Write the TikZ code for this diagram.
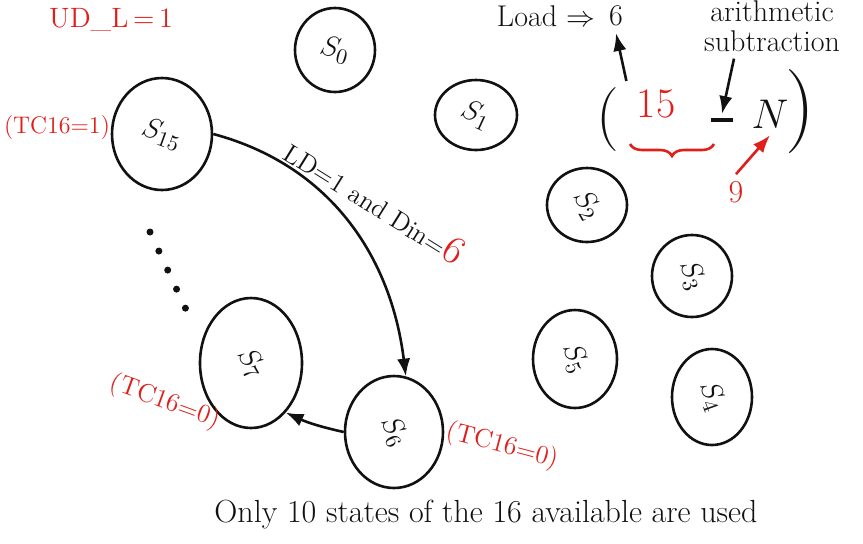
\documentclass[tikz,border=0pt]{standalone}
\usepackage{amsmath}
\usetikzlibrary{arrows.meta,positioning,shapes.geometric,decorations.pathreplacing}
\usepackage{xcolor}
\definecolor{HandRed}{HTML}{E01E1A}
\definecolor{Ink}{HTML}{111111}

\begin{document}
\begin{tikzpicture}[x=0.5pt,y=-0.5pt,>=Latex,
  every node/.style={align=center,text=Ink},
  state/.style={draw=Ink,ellipse,line width=1.3pt,inner sep=0pt,
    font=\fontsize{15}{18}\selectfont},
  redtag/.style={text=HandRed,font=\fontsize{13}{15}\selectfont},
  ink/.style={draw=Ink,line width=1.3pt}]
  \useasboundingbox (0,0) rectangle (863,543);
  % the sixteen-state counter, only ten drawn
  \node[state,minimum width=40pt,minimum height=42pt] (s0) at (335,50) {\rotatebox{-15}{$S_0$}};
  \node[state,minimum width=41pt,minimum height=35pt] (s1) at (476,115) {\rotatebox{-25}{$S_1$}};
  \node[state,minimum width=40pt,minimum height=37pt] (s2) at (587,205) {\rotatebox{-60}{$S_2$}};
  \node[state,minimum width=40pt,minimum height=41pt] (s3) at (692,276) {\rotatebox{-70}{$S_3$}};
  \node[state,minimum width=40pt,minimum height=48pt] (s4) at (712,397) {\rotatebox{-70}{$S_4$}};
  \node[state,minimum width=42pt,minimum height=49pt] (s5) at (575,359) {\rotatebox{-70}{$S_5$}};
  \node[state,minimum width=49pt,minimum height=56pt] (s6) at (394,432) {\rotatebox{-65}{$S_6$}};
  \node[state,minimum width=51pt,minimum height=65pt] (s7) at (251,363) {\rotatebox{-60}{$S_7$}};
  \node[state,minimum width=50pt,minimum height=56pt] (s15) at (162,134) {\rotatebox{-20}{$S_{15}$}};
  % red annotations
  \node[redtag,font=\fontsize{14}{16}\selectfont] (udl) at (111,20) {UD\_L\,=\,1};
  \node[redtag,font=\fontsize{12}{14}\selectfont,inner sep=1pt] (tcfifteen) at (57,128) {(TC16=1)};
  \node[redtag,rotate=-20] (tcseven) at (165,402) {(TC16=0)};
  \node[redtag,rotate=-15] (tcsix) at (502,446) {(TC16=0)};
  % transitions
  \draw[ink,->] (s15.east) to[out=-15,in=97]
    node[pos=0.2,rotate=-32,anchor=south west,inner sep=1pt,font=\fontsize{13}{15}\selectfont]
      {LD=1 and Din=\textcolor{HandRed}{\fontsize{20}{22}\selectfont 6}} (s6.78);
  \draw[ink,->] (s6.west) to[bend left=6] (s7.-55);
  \coordinate (dotsA) at (150,232);
  \coordinate (dotsB) at (190,318);
  \draw[Ink,line width=3.5pt,line cap=round,dash pattern=on 0pt off 10.5pt] (dotsA) -- (dotsB);
  % load value = 15 - N
  \node[font=\fontsize{15}{18}\selectfont] (loadtxt) at (546,16) {Load $\Rightarrow$};
  \node[font=\fontsize{15}{18}\selectfont,right=0pt of loadtxt] (loadsix) {6};
  \node[font=\fontsize{15}{15}\selectfont] (subtr) at (772,26) {arithmetic\\subtraction};
  \node[font=\fontsize{32}{32}\selectfont] (lparen) at (608,120) {(};
  \node[text=HandRed,font=\fontsize{21}{24}\selectfont] (fifteen) at (656,104) {15};
  \node[inner sep=2pt] (minus) at (722,120) {\rule{11pt}{1.8pt}};
  \node[font=\fontsize{22}{24}\selectfont] (nval) at (770,114) {$N$};
  \node[font=\fontsize{42}{42}\selectfont] (rparen) at (800,112) {)};
  \node[text=HandRed,font=\fontsize{16}{18}\selectfont] (nine) at (736,192) {9};
  \coordinate (braceL) at (630,144);
  \coordinate (braceR) at (714,144);
  \draw[HandRed,line width=1.3pt,decorate,decoration={brace,mirror,amplitude=6pt}]
    (braceL) -- (braceR);
  \draw[ink,->] (lparen.north east) -- (loadsix.south);
  \draw[ink,->] (subtr.south) ++(-38,0) coordinate (subtrtail) -- (minus.north);
  \draw[HandRed,line width=1.3pt,->] (nine.north) -- (nval.south);
  % note
  \node[font=\fontsize{16}{18}\selectfont] (note) at (486,515)
    {Only 10 states of the 16 available are used};
\end{tikzpicture}
\end{document}
